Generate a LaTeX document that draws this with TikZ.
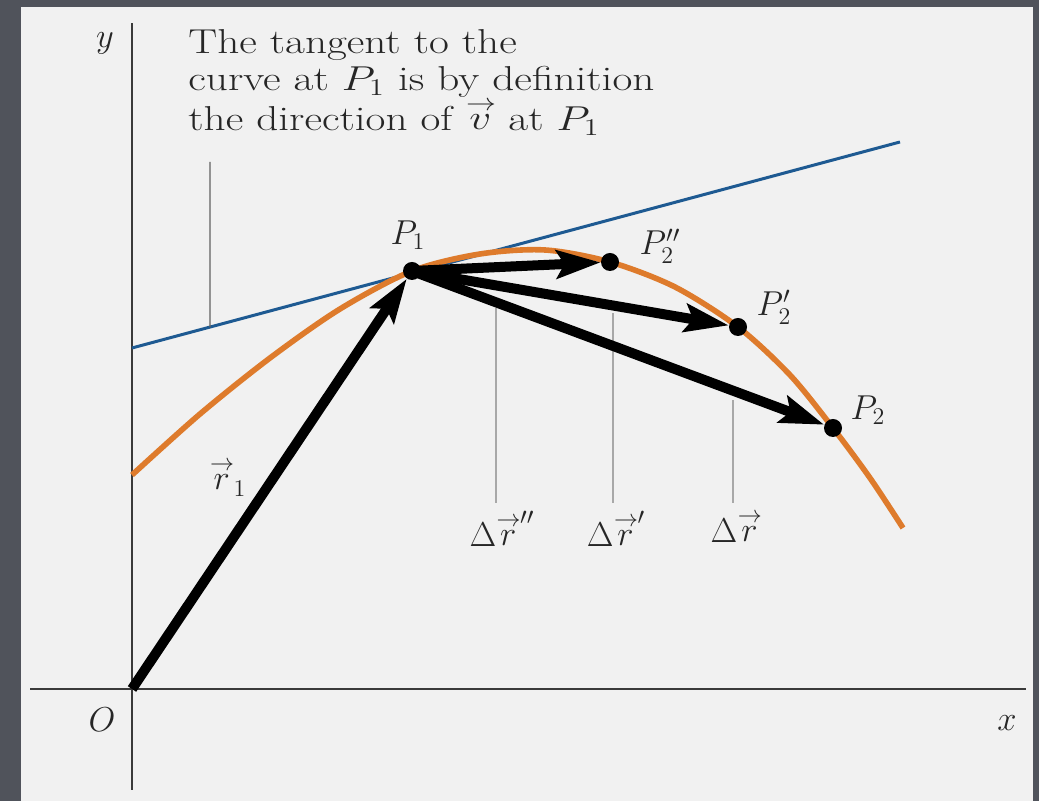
\documentclass[tikz,border=0pt]{standalone}
\usepackage{xcolor}
\definecolor{cFrame}{HTML}{50535B}
\definecolor{cPanel}{HTML}{F1F1F1}
\definecolor{cAxis}{HTML}{3A3A3A}
\definecolor{cPath}{HTML}{DE7B2C}
\definecolor{cTangent}{HTML}{1E5A92}
\definecolor{cLead}{HTML}{A8A8A8}
\usepackage{tikz}
\usetikzlibrary{arrows.meta,calc}
\newcommand{\arrowover}[1]{\mathord{\stackrel{\rightarrow}{#1}}}
\newcommand{\wideline}[1]{\scalebox{1.25}[1]{#1}}
\tikzset{
  axis-line/.style={draw=cAxis,line width=1pt},
  path-curve/.style={draw=cPath,line width=2.8pt},
  tangent-line/.style={draw=cTangent,line width=1.5pt},
  lead-line/.style={draw=cLead,line width=0.8pt},
  note-line/.style={draw=cAxis!80,line width=0.7pt},
  node-dot/.style={circle,fill=black,inner sep=0pt,minimum size=9pt},
  node-label/.style={inner sep=0pt,text=black!85},
  % vectors: thick black shaft, long stealth head
  arrow-vec/.style={-{Stealth[length=22pt,width=14pt,inset=4pt]},line width=5pt,draw=black},
}

\begin{document}
\begin{tikzpicture}[x=0.5pt,y=0.5pt,font=\fontsize{17.28}{18.5}\selectfont]
  \useasboundingbox (0,0) rectangle (1039,801);
  \fill[cFrame] (0,0) rectangle (1039,801);
  \fill[cPanel] (21,0) rectangle (1033,794);

  \coordinate (O) at (132,112);
  \coordinate (t0) at (132,453);
  \coordinate (t1) at (900,659);
  \coordinate (tp) at ($(t0)!0.1016!(t1)$);
  \coordinate (note-foot) at (210,639);
  \coordinate (l1t) at (496,493);
  \coordinate (l1b) at (496,298);
  \coordinate (l2t) at (613,488);
  \coordinate (l2b) at (613,298);
  \coordinate (l3t) at (733,401);
  \coordinate (l3b) at (733,298);

  % axes
  \draw[axis-line] (132,11) -- (132,778);
  \draw[axis-line] (30,112) -- (1026,112);

  \draw[tangent-line] (t0) -- (t1);
  \draw[path-curve] plot[smooth] coordinates {(132,326) (200,387) (270,443) (340,492)
    (412,530) (480,547) (545,551) (610,539) (675,514) (738,474) (790,426)
    (833,373) (870,323) (903,273)};

  \draw[note-line] (tp) -- (note-foot);
  \draw[lead-line] (l1b) -- (l1t);
  \draw[lead-line] (l2b) -- (l2t);
  \draw[lead-line] (l3b) -- (l3t);

  \node[node-dot] (p1)  at (412,530) {};
  \node[node-dot] (p2b) at (610,539) {};
  \node[node-dot] (p2a) at (738,474) {};
  \node[node-dot] (p2)  at (833,373) {};

  \draw[arrow-vec] (O) -- (p1);
  \draw[arrow-vec] (p1.center) -- (p2b);
  \draw[arrow-vec] (p1.center) -- (p2a);
  \draw[arrow-vec] (p1.center) -- (p2);

  \node[node-label,anchor=north west,align=left] (note) at (188,772)
    {\wideline{The tangent to the}\\\wideline{curve at $P_1$ is by definition}\\
     \wideline{the direction of $\arrowover{v}$ at $P_1$}};
  \node[node-label] (lab-y)   at (105,758) {$y$};
  \node[node-label] (lab-o)   at (102,81)  {$O$};
  \node[node-label] (lab-x)   at (1007,78) {$x$};
  \node[node-label] (lab-p1)  at (408,566) {$P_1$};
  \node[node-label] (lab-p2b) at (660,555) {$P_2''$};
  \node[node-label] (lab-p2a) at (774,494) {$P_2'$};
  \node[node-label] (lab-p2)  at (868,391) {$P_2$};
  \node[node-label] (lab-r1)  at (228,323) {$\arrowover{r}_1$};
  \node[node-label,anchor=north] (d1) at (502,290) {$\Delta\arrowover{r}''$};
  \node[node-label,anchor=north] (d2) at (616,290) {$\Delta\arrowover{r}'$};
  \node[node-label,anchor=north] (d3) at (736,290) {$\Delta\arrowover{r}$};
\end{tikzpicture}
\end{document}
